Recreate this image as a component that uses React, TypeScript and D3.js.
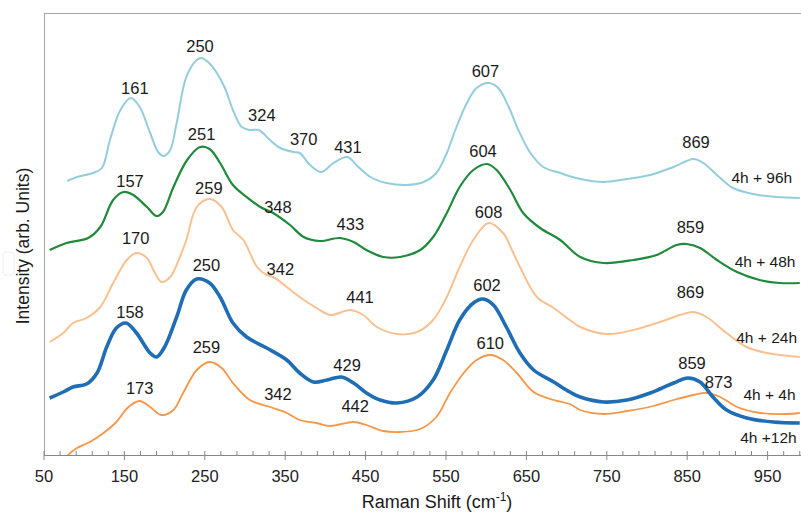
import * as d3 from "d3";
import React from "react";

// Raman spectra (wavenumber cm-1, intensity in arb. units)
const spec96h: [number, number][] = [
  [79, 274], [91, 278], [111, 282], [122, 287], [132, 315], [145, 345], [158, 357], [169, 348],
  [182, 322], [192, 303], [199, 299], [207, 305], [215, 332], [227, 378], [240, 395], [246, 397],
  [254, 393], [265, 382], [275, 367], [285, 345], [296, 328], [306, 325], [317, 325], [331, 315],
  [344, 307], [360, 303], [368, 302], [381, 290], [395, 283], [410, 292], [427, 298], [441, 288],
  [456, 278], [476, 272], [501, 270], [522, 273], [538, 282], [551, 302], [563, 328], [576, 352],
  [588, 367], [603, 372], [615, 367], [628, 348], [640, 325], [655, 302], [671, 288], [692, 282],
  [717, 276], [746, 273], [775, 276], [804, 280], [833, 288], [858, 296], [870, 292], [887, 280],
  [907, 267], [932, 261], [961, 258], [990, 257],
];
const spec48h: [number, number][] = [
  [57, 205], [78, 212], [105, 217], [120, 228], [136, 255], [149, 263], [161, 260], [178, 248],
  [190, 239], [198, 243], [211, 268], [228, 295], [244, 308], [256, 306], [269, 292], [285, 270],
  [302, 258], [319, 248], [335, 242], [356, 230], [373, 218], [393, 214], [418, 217], [435, 213],
  [451, 205], [472, 198], [493, 198], [518, 205], [534, 218], [551, 242], [567, 268], [584, 285],
  [601, 291], [613, 285], [630, 265], [646, 242], [667, 227], [692, 215], [717, 198], [746, 192],
  [783, 195], [812, 200], [837, 210], [849, 211], [866, 207], [887, 195], [912, 183], [940, 175],
  [965, 172], [990, 172],
];
const spec24h: [number, number][] = [
  [57, 113], [74, 122], [86, 132], [103, 137], [120, 148], [136, 172], [153, 195], [165, 202],
  [178, 197], [188, 182], [196, 173], [207, 178], [219, 198], [227, 215], [240, 248], [256, 256],
  [271, 248], [285, 225], [298, 215], [315, 188], [327, 180], [335, 178], [352, 168], [368, 158],
  [389, 147], [406, 140], [431, 145], [447, 140], [464, 128], [489, 121], [514, 123], [534, 135],
  [551, 158], [567, 188], [584, 215], [603, 232], [621, 222], [632, 205], [642, 188], [663, 158],
  [684, 147], [704, 135], [717, 128], [750, 121], [783, 125], [816, 133], [841, 140], [858, 143],
  [874, 138], [899, 122], [924, 108], [949, 102], [990, 98],
];
const spec4h: [number, number][] = [
  [57, 57], [74, 63], [86, 68], [103, 71], [116, 82], [128, 108], [140, 127], [152, 132],
  [165, 122], [182, 102], [190, 98], [200, 108], [215, 138], [227, 165], [240, 176], [256, 172],
  [269, 158], [285, 132], [302, 118], [327, 107], [352, 95], [368, 82], [385, 73], [402, 75],
  [420, 78], [435, 72], [451, 62], [468, 55], [489, 52], [514, 58], [534, 75], [551, 105],
  [567, 135], [584, 152], [596, 156], [609, 150], [625, 128], [642, 102], [659, 85], [684, 73],
  [704, 63], [717, 58], [746, 53], [775, 55], [804, 62], [833, 72], [851, 77], [866, 73],
  [882, 58], [899, 45], [924, 37], [957, 33], [990, 32],
];
const spec12h: [number, number][] = [
  [72, -8], [80, 0], [91, 7], [107, 13], [124, 22], [140, 33], [155, 48], [169, 54], [182, 48],
  [196, 40], [211, 45], [223, 62], [240, 85], [256, 93], [271, 87], [285, 72], [306, 55],
  [331, 48], [352, 42], [368, 35], [389, 32], [406, 29], [435, 33], [451, 30], [472, 24],
  [493, 23], [518, 26], [538, 38], [555, 62], [572, 82], [588, 95], [605, 100], [621, 95],
  [638, 82], [659, 63], [684, 55], [704, 51], [717, 45], [746, 41], [775, 44], [808, 49],
  [833, 55], [858, 60], [874, 62], [891, 58], [912, 48], [941, 42], [974, 41], [990, 42],
];

// peak labels: [text, wavenumber, intensity]
const peaks96h: [string, number, number][] = [
  ["161", 163, 361], ["250", 244, 403], ["324", 321, 334], ["370", 373, 310],
  ["431", 428, 302], ["607", 599, 378], ["869", 861, 307],
];
const peaks48h: [string, number, number][] = [
  ["157", 157, 268], ["251", 246, 315], ["348", 341, 242], ["433", 431, 225],
  ["604", 596, 298], ["859", 854, 222],
];
const peaks24h: [string, number, number][] = [
  ["170", 164, 211], ["259", 255, 261], ["342", 344, 180], ["441", 443, 152],
  ["608", 603, 237], ["869", 854, 157],
];
const peaks4h: [string, number, number][] = [
  ["158", 157, 137], ["250", 252, 184], ["429", 427, 84], ["602", 601, 164], ["859", 856, 86],
];
const peaks12h: [string, number, number][] = [
  ["173", 169, 61], ["259", 252, 102], ["342", 341, 55], ["442", 437, 43],
  ["610", 605, 106], ["873", 889, 67],
];

const seriesNames = ["4h + 96h", "4h + 48h", "4h + 24h", "4h +12h", "4h + 4h"];
const namePos: [number, number][] = [[905, 272], [909, 188], [911, 112], [916, 12], [920, 55]];
const majorTicks = [50, 150, 250, 350, 450, 550, 650, 750, 850, 950];

const W = 801;
const H = 513;
const left = 44;
const top = 13;
const bottom = 455;
const font = "'Liberation Sans', Arial, sans-serif";

export default function App() {
  const x = d3.scaleLinear().domain([50, 1000]).range([left, left + 950 * 0.804]);
  const y = d3.scaleLinear().domain([0, 442]).range([bottom, top]);
  const line = d3
    .line<[number, number]>()
    .x((d) => x(d[0]))
    .y((d) => y(d[1]))
    .curve(d3.curveCatmullRom.alpha(0.5));

  const series = [
    { data: spec96h, color: "#93cddd", w: 2, peaks: peaks96h },
    { data: spec48h, color: "#1f8a3a", w: 2.2, peaks: peaks48h },
    { data: spec24h, color: "#fac090", w: 2, peaks: peaks24h },
    { data: spec12h, color: "#f79646", w: 1.8, peaks: peaks12h },
    { data: spec4h, color: "#1f6db5", w: 3.6, peaks: peaks4h },
  ];
  const minor = d3.range(70, 1000, 20).filter((v) => (v - 50) % 100 !== 0);

  return (
    <svg width={W} height={H} style={{ position: "absolute", left: 0, top: 0, background: "#fff" }}>
      <defs>
        <clipPath id="plot">
          <rect x={left} y={top} width={W - left} height={bottom - top} />
        </clipPath>
      </defs>
      <rect x={3} y={252} width={11} height={23} rx={3} fill="#fff" stroke="#eee" />
      {/* frame */}
      <line x1={left} x2={W} y1={top + 0.5} y2={top + 0.5} stroke="#a6a6a6" />
      <line x1={left + 0.5} x2={left + 0.5} y1={top} y2={bottom} stroke="#a6a6a6" />

      <g clipPath="url(#plot)">
        {series.map((s, i) => (
          <path key={i} d={line(s.data) || ""} fill="none" stroke={s.color} strokeWidth={s.w}
            strokeLinejoin="round" />
        ))}
      </g>

      {/* x axis */}
      <line x1={left} x2={W} y1={bottom + 0.5} y2={bottom + 0.5} stroke="#868686" />
      {minor.map((v) => (
        <line key={v} x1={x(v)} x2={x(v)} y1={bottom - 4} y2={bottom} stroke="#868686" />
      ))}
      {majorTicks.map((v) => (
        <g key={v}>
          <line x1={x(v)} x2={x(v)} y1={bottom - 4} y2={bottom + 5} stroke="#868686" />
          <text x={x(v)} y={482} textAnchor="middle" fontFamily={font} fontSize={16.5} fill="#222">
            {v}
          </text>
        </g>
      ))}

      {/* peak labels */}
      {series.map((s, i) =>
        s.peaks.map((p, j) => (
          <text key={i + "-" + j} x={x(p[1])} y={y(p[2])} textAnchor="middle" fontFamily={font}
            fontSize={16.5} fill="#1a1a1a">
            {p[0]}
          </text>
        ))
      )}

      {/* series names */}
      {seriesNames.map((n, i) => (
        <text key={n} x={x(namePos[i][0])} y={y(namePos[i][1])} fontFamily={font} fontSize={15.5}
          fill="#1a1a1a">
          {n}
        </text>
      ))}

      {/* axis titles */}
      <text x={437} y={508} textAnchor="middle" fontFamily={font} fontSize={18} fill="#1a1a1a">
        Raman Shift (cm<tspan dy={-7} fontSize={12}>-1</tspan>
        <tspan dy={7}>)</tspan>
      </text>
      <text transform="translate(29,246) rotate(-90)" textAnchor="middle" fontFamily={font}
        fontSize={17.5} fill="#1a1a1a">
        Intensity (arb. Units)
      </text>
    </svg>
  );
}
